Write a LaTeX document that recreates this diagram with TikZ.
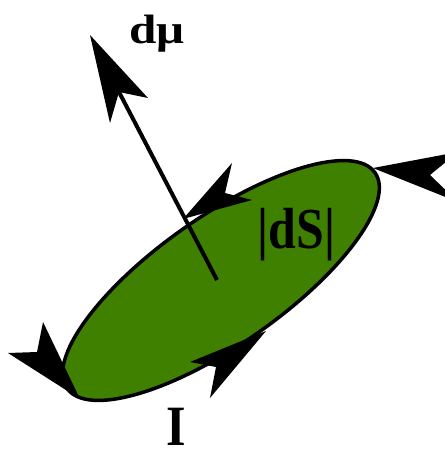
\documentclass[tikz,border=0pt]{standalone}
\usepackage{graphicx}
\usepackage{fontspec}
\setmainfont{Liberation Serif}
\definecolor{loopgreen}{RGB}{64,128,0}
\begin{document}
\begin{tikzpicture}[x=1pt,y=-1pt,
  head/.style={fill=black},
  loop/.style={fill=loopgreen, draw=black, line width=3.5pt},
  shaft/.style={draw=black, line width=4pt},
  lbl/.style={inner sep=0pt, anchor=base, font=\bfseries}]
\useasboundingbox (0,0) rectangle (445,456);
\clip (0,0) rectangle (445,456);
\coordinate (C) at (221,280.5);
% current loop
\filldraw[loop, rotate around={35:(C)}] (C) ellipse [x radius=188, y radius=64];
% moment arrow
\coordinate (S) at (217,280);
\coordinate (muT) at (90,35);
\coordinate (muB1) at (148,98);
\coordinate (muN) at (119,92);
\coordinate (muB2) at (110,123);
\draw[shaft] (S) -- (muN);
\fill[head] (muT) -- (muB1) -- (muN) -- (muB2) -- cycle;
% current arrowheads on the loop
\coordinate (aT) at (183,219);
\coordinate (aB1) at (232,163);
\coordinate (aN) at (225,193);
\coordinate (aB2) at (252,200);
\fill[head] (aT) -- (aB1) -- (aN) -- (aB2) -- cycle;
\coordinate (bT) at (373,168);
\coordinate (bB1) at (458,152);
\coordinate (bN) at (430,175);
\coordinate (bB2) at (458,202);
\fill[head] (bT) -- (bB1) -- (bN) -- (bB2) -- cycle;
\coordinate (cT) at (80,399);
\coordinate (cB1) at (43,322);
\coordinate (cN) at (37,352);
\coordinate (cB2) at (8,353);
\fill[head] (cT) -- (cB1) -- (cN) -- (cB2) -- cycle;
\coordinate (dT) at (266,331);
\coordinate (dB1) at (190,362);
\coordinate (dN) at (216,367);
\coordinate (dB2) at (210,398);
\fill[head] (dT) -- (dB1) -- (dN) -- (dB2) -- cycle;
% labels
\node[lbl] (mu) at (157,43) {\fontsize{41}{41}\selectfont\scalebox{1.2}[1]{dμ}};
\node[lbl] (dS) at (296.5,248) {\fontsize{58}{58}\selectfont\scalebox{0.86}[1]{|dS|}};
\node[lbl] (I) at (176,445) {\fontsize{57}{57}\selectfont\scalebox{0.88}[1]{I}};
\end{tikzpicture}
\end{document}
